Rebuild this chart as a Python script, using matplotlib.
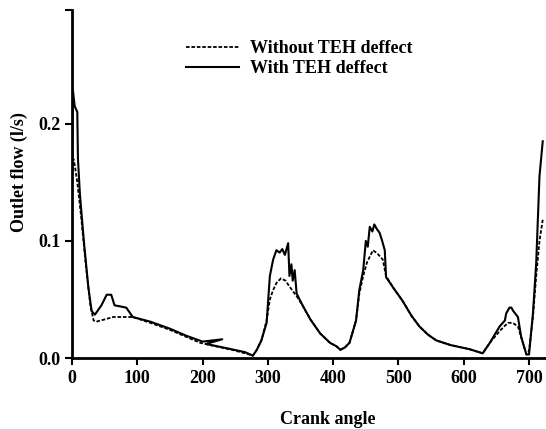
import numpy as np
import matplotlib.pyplot as plt

# crank angle / outlet flow
ang_without = [0, 2, 4, 8, 14, 21, 28, 33, 37, 47, 63, 93, 120, 150, 175, 196, 220, 245, 265, 277,
               283, 290, 298, 303, 308, 313, 320, 327, 333, 345, 354, 365, 380, 395, 405, 411, 418, 425,
               435, 440, 446, 452, 461, 468, 476, 481, 492, 506, 520, 532, 545, 558, 580, 609, 629,
               640, 655, 662, 668, 675, 683, 690, 696, 700, 706, 711, 716, 721]
flow_without = [0.150, 0.170, 0.165, 0.150, 0.120, 0.080, 0.045, 0.032, 0.031, 0.0325, 0.035, 0.035,
                0.030, 0.024, 0.018, 0.013, 0.010, 0.007, 0.004, 0.002,
                0.007, 0.015, 0.032, 0.050, 0.058, 0.064, 0.068, 0.066, 0.061, 0.052, 0.044, 0.033,
                0.021, 0.013, 0.010, 0.007, 0.009, 0.013,
                0.032, 0.055, 0.070, 0.082, 0.092, 0.089, 0.084, 0.070, 0.060, 0.049, 0.036, 0.027,
                0.020, 0.015, 0.011, 0.0075, 0.004,
                0.013, 0.023, 0.027, 0.030, 0.030, 0.027, 0.014, 0.003, 0.006, 0.035, 0.070, 0.100, 0.118]

ang_with = [0, 1, 4, 8, 9, 12, 18, 25, 30, 35, 45, 53, 60, 65, 83, 93, 120, 150, 175, 200, 230,
            205, 240, 265, 277, 283, 290, 298, 303, 308, 313, 318, 322, 326, 328, 331, 333, 336,
            338, 341, 344, 354, 365, 380, 395, 405, 411, 418, 425, 435, 440, 446, 450, 453, 456,
            460, 463, 467, 471, 475, 479, 481, 492, 506, 520, 532, 545, 558, 580, 609,
            629, 640, 655, 663, 665, 670, 673, 676, 683, 688, 696, 700, 706, 711, 716, 721]
flow_with = [0.160, 0.230, 0.215, 0.210, 0.170, 0.140, 0.100, 0.060, 0.040, 0.037, 0.045, 0.054,
             0.054, 0.045, 0.043, 0.035, 0.031, 0.025, 0.019, 0.014, 0.016,
             0.012, 0.008, 0.005, 0.002, 0.007, 0.015, 0.030, 0.070, 0.084, 0.092, 0.090, 0.093,
             0.088, 0.092, 0.098, 0.070, 0.080, 0.066, 0.075, 0.055, 0.044, 0.033,
             0.021, 0.013, 0.010, 0.007, 0.009, 0.013, 0.032, 0.058, 0.075, 0.100, 0.095, 0.112,
             0.108, 0.114, 0.110, 0.107, 0.100, 0.092, 0.069, 0.060, 0.049, 0.036, 0.027, 0.020,
             0.015, 0.011, 0.0075,
             0.004, 0.013, 0.027, 0.032, 0.038, 0.043, 0.043, 0.040, 0.035, 0.018, 0.003, 0.003,
             0.038, 0.081, 0.155, 0.185]

ytick_vals = [0.0, 0.1, 0.2, 0.297]
ytick_labels = ['0.0', '0.1', '0.2', '']

plt.rcParams['font.family'] = 'Liberation Serif'
plt.rcParams['font.weight'] = 'bold'
plt.rcParams['axes.labelweight'] = 'bold'

fig = plt.figure(figsize=(5.46, 4.29), dpi=100)
ax = fig.add_axes([0.132, 0.1655, 0.868, 0.811])

ax.plot(ang_without, flow_without, color='black', lw=1.3, ls=(0, (2, 1)), label='Without TEH deffect')
ax.plot(ang_with, flow_with, color='black', lw=1.5, label='With TEH deffect')

ax.set_xlim(0, 726)
ax.set_ylim(0, 0.297)
ax.set_xticks(np.arange(0, 701, 100))
ax.set_yticks(ytick_vals)
ax.set_yticklabels(ytick_labels)
ax.spines['top'].set_visible(False)
ax.spines['right'].set_visible(False)
ax.spines['left'].set_linewidth(2)
ax.spines['bottom'].set_linewidth(2)
ax.tick_params(width=1.5, length=5, labelsize=13)

ax.set_xlabel('Crank angle', fontsize=13)
ax.set_ylabel('Outlet flow (l/s)', fontsize=13)
ax.xaxis.set_label_coords(0.54, -0.152)
ax.yaxis.set_label_coords(-0.093, 0.534)

ax.legend(loc='upper left', bbox_to_anchor=(0.207, 0.96), frameon=False, fontsize=13,
          handlelength=2.9, handletextpad=0.6, labelspacing=0.15)

fig.savefig('out.png', dpi=100)
